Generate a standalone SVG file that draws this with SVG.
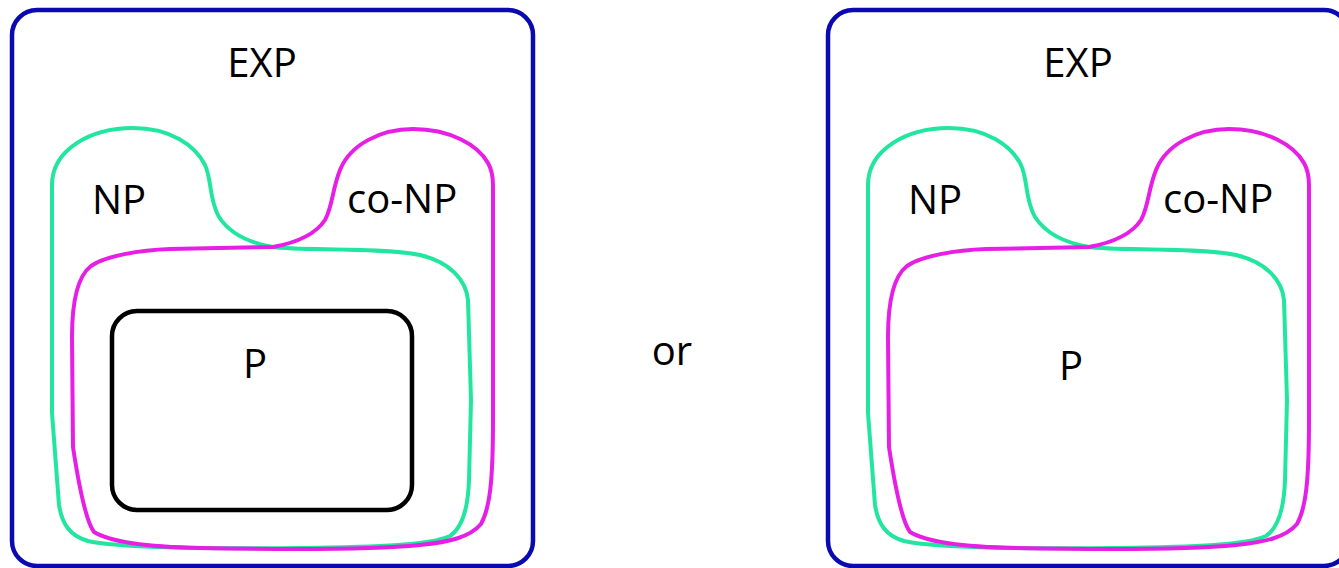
<svg xmlns="http://www.w3.org/2000/svg" width="1339" height="568" viewBox="0 0 1339 568">
<style>
.exp{fill:none;stroke:#0a0ab0;stroke-width:4.5}
.np{fill:none;stroke:#22e6a0;stroke-width:4;stroke-linejoin:round}
.conp{fill:none;stroke:#e61ee6;stroke-width:4;stroke-linejoin:round}
.p{fill:none;stroke:#000;stroke-width:4.5}
text{font-family:"Open Sans","Liberation Sans",sans-serif;font-size:40px;fill:#000}
</style>
<defs>
<path id="npShape" d="M52,185 C52,150 90,128 133,128 C170,128 195,145 205,165 C212,180 209,200 219,217 C230,234 250,243 273,247 C300,251 380,247 420,255 C450,262 466,280 468,300 L471,400 L469,480 C468,510 462,528 450,536 C430,545 380,547 300,548 C200,549 120,548 88,541 C70,536 62,524 59,505 L52,413 Z"/>
<path id="conpShape" d="M273,247 C295,243 315,235 325,220 C333,205 332,190 340,170 C350,145 380,129 413,129 C450,129 478,145 488,163 C492,170 493,176 493,185 L493,420 C493,480 490,508 481,524 C470,537 450,542 420,545 C380,549 300,550 200,548 C150,547 112,543 94,532 C85,520 78,480 73,447 L72,337 C72,300 78,276 91,266 C105,256 140,250 170,249 Z"/>
</defs>
<g id="left-panel">
  <g id="EXP-left"><rect class="exp" x="12" y="10" width="521" height="556" rx="25"/><text x="262" y="77" text-anchor="middle">EXP</text></g>
  <g id="NP-left"><use href="#npShape" class="np"/><text x="92" y="214">NP</text></g>
  <g id="coNP-left"><use href="#conpShape" class="conp"/><text x="347" y="213">co-NP</text></g>
  <g id="P-left"><rect class="p" x="112" y="311" width="300" height="199" rx="25"/><text x="243" y="378">P</text></g>
</g>
<g id="or-label"><text x="672" y="365" text-anchor="middle">or</text></g>
<g id="right-panel" transform="translate(816,0)">
  <g id="EXP-right"><rect class="exp" x="12" y="10" width="521" height="556" rx="25"/><text x="262" y="77" text-anchor="middle">EXP</text></g>
  <g id="NP-right"><use href="#npShape" class="np"/><text x="92" y="214">NP</text></g>
  <g id="coNP-right"><use href="#conpShape" class="conp"/><text x="347" y="213">co-NP</text></g>
  <g id="P-right"><text x="243" y="380">P</text></g>
</g>
<g id="connectors"></g>
</svg>
